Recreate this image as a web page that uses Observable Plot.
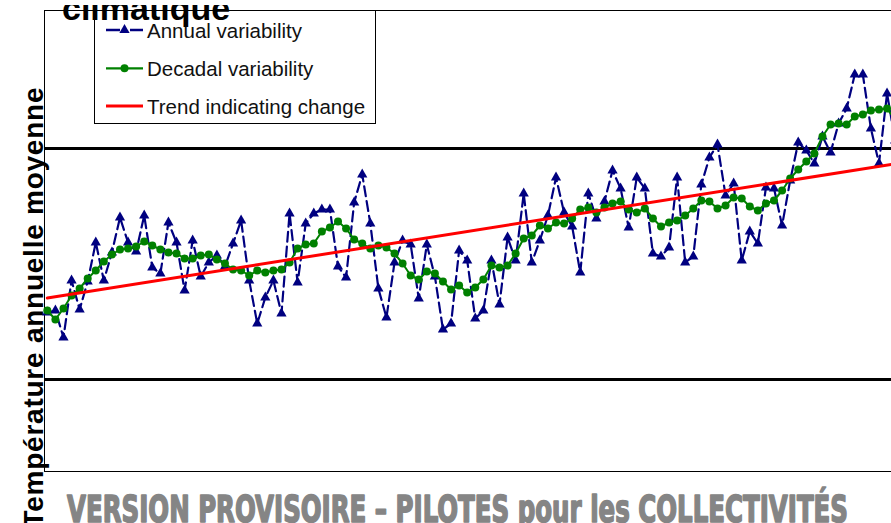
<!DOCTYPE html>
<html>
<head>
<meta charset="utf-8">
<script src="https://cdn.jsdelivr.net/npm/d3@7"></script>
<script src="https://cdn.jsdelivr.net/npm/@observablehq/plot@0.6"></script>
<style>
  html, body { margin: 0; padding: 0; background: #fff; overflow: hidden; }
  #wrap { position: relative; width: 891px; height: 523px; }
  #wrap > svg.overlay { position: absolute; left: 0; top: 0; pointer-events: none; }
</style>
</head>
<body>
<div id="wrap"></div>
<script>
// ---- data ----
const firstYear = 1900;
const lastYear = 2005;
const years = d3.range(firstYear, lastYear + 1);

const annual = [
  11.58, 11.60, 11.33, 11.90, 11.61, 11.89, 12.28, 11.90, 12.18, 12.53,
  12.28, 12.19, 12.55, 12.03, 11.97, 12.48, 12.28, 11.80, 12.30, 11.94,
  12.08, 12.15, 12.04, 12.27, 12.50, 11.90, 11.47, 11.73, 11.90, 11.57,
  12.57, 11.88, 12.47, 12.57, 12.61, 12.61, 12.04, 11.93, 12.68, 12.96,
  12.47, 11.82, 11.53, 12.08, 12.30, 12.26, 11.72, 12.26, 11.94, 11.41,
  11.47, 12.20, 12.10, 11.52, 11.60, 12.10, 11.66, 12.33, 12.10, 12.77,
  12.08, 12.30, 12.55, 12.93, 12.58, 12.44, 11.98, 12.77, 12.52, 12.69,
  13.00, 12.82, 12.43, 12.93, 12.82, 12.17, 12.14, 12.23, 12.93, 12.08,
  12.14, 12.86, 13.13, 13.26, 12.75, 12.87, 12.10, 12.39, 12.27, 12.83,
  12.82, 12.45, 12.90, 13.28, 13.20, 13.07, 13.34, 13.18, 13.47, 13.62,
  13.96, 13.96, 13.42, 13.07, 13.77, 13.30
];

const decadal = [
  11.60, 11.51, 11.62, 11.75, 11.82, 11.92, 12.00, 12.09, 12.16, 12.21,
  12.22, 12.24, 12.29, 12.25, 12.21, 12.18, 12.17, 12.12, 12.12, 12.15,
  12.16, 12.11, 12.07, 12.01, 12.00, 11.95, 12.00, 11.98, 12.00, 12.01,
  12.08, 12.22, 12.26, 12.27, 12.39, 12.43, 12.49, 12.42, 12.31, 12.27,
  12.22, 12.25, 12.23, 12.17, 12.07, 11.95, 11.91, 11.99, 11.97, 11.89,
  11.81, 11.85, 11.78, 11.83, 11.91, 12.05, 12.03, 12.05, 12.17, 12.32,
  12.35, 12.45, 12.42, 12.48, 12.47, 12.52, 12.61, 12.63, 12.58, 12.63,
  12.67, 12.69, 12.61, 12.58, 12.62, 12.52, 12.44, 12.48, 12.50, 12.55,
  12.62, 12.70, 12.69, 12.62, 12.65, 12.73, 12.72, 12.64, 12.60, 12.67,
  12.70, 12.80, 12.92, 13.01, 13.09, 13.17, 13.34, 13.46, 13.47, 13.46,
  13.54, 13.56, 13.60, 13.61, 13.62, 13.51
];

const trendYears = [1900, 2005];
const trendValues = [11.725, 13.067];

const thresholds = [10.91, 13.22];

const xDomain = [1899.65, 2004.55];
const yDomain = [9.99, 14.60];

const legendLabels = ["Annual variability", "Decadal variability", "Trend indicating change"];
const titleText = "climatique";
const yLabel = "Température annuelle moyenne";
const watermark = "VERSION PROVISOIRE – PILOTES pour les COLLECTIVITÉS";

// ---- tables ----
const annualData = years.map((year, i) => ({year, value: annual[i]}));
const decadalData = years.map((year, i) => ({year, value: decadal[i]}));
const trendData = trendYears.map((year, i) => ({year, value: trendValues[i]}));

const navy = "#000080", green = "#008000", red = "#ff0000";
const triR = 3.8, dotR = 4;

const chart = Plot.plot({
  width: 891,
  height: 523,
  marginLeft: 44,
  marginRight: 0,
  marginTop: 10,
  marginBottom: 52,
  style: {background: "white"},
  x: {domain: xDomain, axis: null},
  y: {domain: yDomain, axis: null},
  marks: [
    Plot.frame({stroke: "black", strokeWidth: 1}),
    Plot.ruleY(thresholds, {stroke: "black", strokeWidth: 3}),
    Plot.line(annualData, {x: "year", y: "value", stroke: navy, strokeWidth: 2.2, strokeDasharray: "10,5"}),
    Plot.dot(annualData, {x: "year", y: "value", symbol: "triangle", r: triR, fill: navy, stroke: "none"}),
    Plot.line(decadalData, {x: "year", y: "value", stroke: green, strokeWidth: 2}),
    Plot.dot(decadalData, {x: "year", y: "value", r: dotR, fill: green, stroke: "none"}),
    Plot.line(trendData, {x: "year", y: "value", stroke: red, strokeWidth: 3})
  ]
});
document.getElementById("wrap").appendChild(chart);

// ---- overlay: title, legend, y label, watermark ----
const NS = "http://www.w3.org/2000/svg";
const ov = d3.select("#wrap").append("svg")
  .attr("class", "overlay")
  .attr("xmlns", NS)
  .attr("width", 891).attr("height", 523);

// legend box
const lg = ov.append("g").attr("transform", "translate(94,10)");
lg.append("rect").attr("x", 0.5).attr("y", 0.5).attr("width", 281).attr("height", 113)
  .attr("fill", "white").attr("stroke", "black").attr("stroke-width", 1);
const rowY = [20, 58.3, 96];
// annual sample
lg.append("line").attr("x1", 12).attr("x2", 26).attr("y1", rowY[0]).attr("y2", rowY[0])
  .attr("stroke", navy).attr("stroke-width", 2.5);
lg.append("line").attr("x1", 36).attr("x2", 49).attr("y1", rowY[0]).attr("y2", rowY[0])
  .attr("stroke", navy).attr("stroke-width", 2.5);
lg.append("path").attr("d", d3.symbol(d3.symbolTriangle, Math.PI * triR * triR)())
  .attr("transform", `translate(30.5,${rowY[0]})`).attr("fill", navy);
// decadal sample
lg.append("line").attr("x1", 12).attr("x2", 49).attr("y1", rowY[1]).attr("y2", rowY[1])
  .attr("stroke", green).attr("stroke-width", 2.2);
lg.append("circle").attr("cx", 30.5).attr("cy", rowY[1]).attr("r", dotR).attr("fill", green);
// trend sample
lg.append("line").attr("x1", 12).attr("x2", 49).attr("y1", rowY[2]).attr("y2", rowY[2])
  .attr("stroke", red).attr("stroke-width", 3);
legendLabels.forEach((t, i) => {
  lg.append("text").attr("x", 53).attr("y", rowY[i] + 7.5)
    .attr("font-family", "'Liberation Sans', Arial, sans-serif")
    .attr("font-size", 20.5).attr("fill", "#111").text(t);
});

// title (cut at top)
ov.append("defs").append("clipPath").attr("id", "titleclip")
  .append("rect").attr("x", 0).attr("y", 5).attr("width", 400).attr("height", 30);
ov.append("text").attr("x", 62).attr("y", 19.5)
  .attr("clip-path", "url(#titleclip)")
  .attr("font-family", "'Liberation Sans', Arial, sans-serif")
  .attr("font-weight", "bold").attr("font-size", 34).attr("fill", "black")
  .text(titleText);

// y label
ov.append("text")
  .attr("transform", "translate(42.5,307.5) rotate(-90)")
  .attr("text-anchor", "middle")
  .attr("textLength", 440).attr("lengthAdjust", "spacing")
  .attr("font-family", "'Liberation Sans', Arial, sans-serif")
  .attr("font-weight", "bold").attr("font-size", 28).attr("fill", "black")
  .text(yLabel);

// watermark
ov.append("text").attr("x", 67).attr("y", 521.5)
  .attr("textLength", 781).attr("lengthAdjust", "spacingAndGlyphs")
  .attr("font-family", "'Liberation Sans Narrow', 'DejaVu Sans Condensed', 'Liberation Sans', sans-serif")
  .attr("font-weight", "bold").attr("font-size", 37.5)
  .attr("fill", "#858585").attr("stroke", "#858585").attr("stroke-width", 1.6)
  .attr("stroke-linejoin", "round")
  .text(watermark);
</script>
</body>
</html>
